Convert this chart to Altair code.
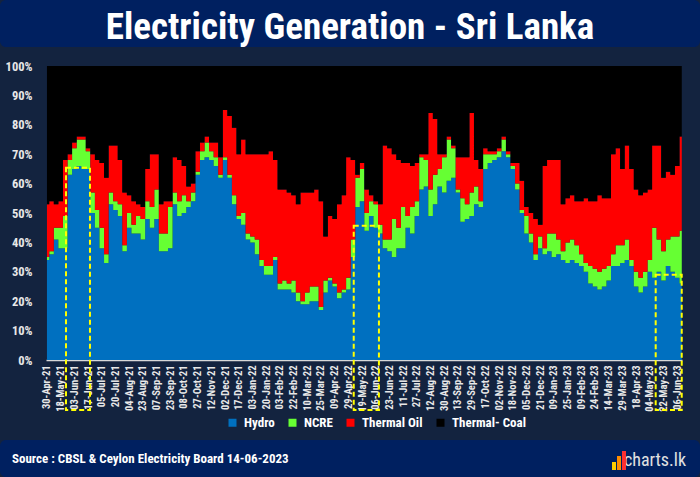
import json
import altair as alt
import pandas as pd

# ---------------- data ----------------
LABELS = ["30-Apr-21","18-May-21","03-Jun-21","17-Jun-21","05-Jul-21","20-Jul-21","04-Aug-21",
          "23-Aug-21","07-Sep-21","23-Sep-21","08-Oct-21","27-Oct-21","12-Nov-21","02-Dec-21",
          "17-Dec-21","03-Jan-22","20-Jan-22","03-Feb-22","22-Feb-22","10-Mar-22","25-Mar-22",
          "09-Apr-22","29-Apr-22","19-May-22","06-Jun-22","23-Jun-22","11-Jul-22","27-Jul-22",
          "12-Aug-22","30-Aug-22","13-Sep-22","29-Sep-22","17-Oct-22","02-Nov-22","18-Nov-22",
          "05-Dec-22","21-Dec-22","09-Jan-23","25-Jan-23","09-Feb-23","24-Feb-23","14-Mar-23",
          "29-Mar-23","18-Apr-23","04-May-23","22-May-23","06-Jun-23"]

SERIES = ["Hydro", "NCRE", "Thermal Oil", "Thermal- Coal"]
COLORS = ["#0070C0", "#66FF33", "#FF0000", "#000000"]

# shares in %, sampled every third of a label interval
HYDRO = [34,36,41,38,38,63,65,66,65,65, 50,45,38,33,53,51,49,37,45,43,
         43,41,48,45,48,37,37,38,53,49, 50,52,54,63,68,69,68,66,62,68,
         62,53,48,46,41,40,36,32,29,29, 34,24,24,24,23,20,19,19,20,20,
         17,23,27,25,21,23,24,35,52,54, 44,49,45,43,38,37,35,38,38,45,
         43,49,58,59,49,53,59,57,61,62, 57,47,48,49,53,52,65,67,68,69,
         71,69,65,58,50,43,40,34,38,36, 37,35,36,34,33,34,33,32,30,26,
         25,24,25,27,32,32,33,34,32,25, 23,25,30,28,30,27,32,30,28,26]
NCRE = [1,1,4,7,11,5,7,9,10,6, 7,6,7,3,4,3,4,2,5,3,
        6,7,6,7,10,6,6,14,4,5, 6,2,3,1,3,5,3,3,1,1,
        1,3,1,4,2,2,5,2,3,3, 1,2,3,2,4,3,1,4,5,5,
        1,4,1,1,2,1,4,6,10,11, 6,5,8,3,3,4,13,7,14,4,
        9,5,11,9,9,10,6,12,14,10, 1,8,5,8,6,2,5,3,2,2,
        4,1,1,2,1,6,3,2,4,2, 6,8,5,3,7,7,6,4,3,6,
        6,6,6,5,4,7,6,7,2,5, 5,5,4,17,11,10,9,12,14,18]
OIL = [18,17,8,9,19,2,2,1,1,1, 13,17,22,26,16,19,15,18,6,8,
       4,4,11,18,12,10,11,2,12,14, 10,5,3,7,3,2,3,5,6,16,
       20,23,21,25,27,28,29,36,38,39, 33,32,31,31,29,30,37,34,32,33,
       36,15,21,22,30,32,41,27,1,2, 8,2,1,7,32,31,22,23,15,18,
       14,13,1,2,26,19,5,1,1,1, 11,14,16,27,9,11,2,1,1,1,
       1,1,1,7,10,3,7,12,4,28, 25,25,27,16,15,15,15,18,22,22,
       23,26,24,23,34,33,26,32,31,28, 28,27,24,28,32,25,23,21,24,32]

# highlighted periods (in label-index units) and their heights (%)
BOX_START = [1.39, 22.39, 44.43]
BOX_END = [3.14, 24.23, 46.33]
BOX_TOP = [65.4, 45.7, 29.0]
BOX_BOTTOM = -17

TITLE = "Electricity Generation - Sri Lanka"
SOURCE = "Source : CBSL & Ceylon Electricity Board 14-06-2023"
BRAND = "charts.lk"

# ---------------- build table ----------------
rows = []
for i in range(len(HYDRO)):
    pos = i / 3
    parts = [HYDRO[i], NCRE[i], OIL[i]]
    parts.append(max(0, 100 - sum(parts)))
    lo = 0
    for name, v in zip(SERIES, parts):
        rows.append({"pos": pos, "series": name, "lo": lo, "hi": min(100, lo + v)})
        lo += v
df = pd.DataFrame(rows)
boxes = pd.DataFrame({"s": BOX_START, "e": BOX_END, "t": BOX_TOP, "b": [BOX_BOTTOM] * 3})
one = pd.DataFrame({"a": [0]})

FONT = "Roboto Condensed, Open Sans Condensed, DejaVu Sans Condensed, sans-serif"
PANEL = "#13233F"
NAVY = "#002060"

W, H = 636, 294
L, T = 46, 66

xscale = alt.Scale(domain=[-0.07, 46.35], nice=False, zero=False)
yscale = alt.Scale(domain=[0, 100], nice=False)

label_expr = json.dumps(LABELS) + "[round(datum.value)]"

xaxis = alt.Axis(values=list(range(len(LABELS))), labelExpr=label_expr,
                 labelAngle=270, labelFont=FONT, labelFontSize=10.5,
                 labelFontWeight="bold", labelColor="#E8E8E8", labelPadding=5,
                 ticks=False, grid=False, domainColor="#D9D9D9", domainWidth=1.5,
                 title=None, labelOverlap=False, labelBound=False, labelFlush=False)
yaxis = alt.Axis(values=list(range(0, 101, 10)), labelExpr="datum.value + '%'",
                 labelFont=FONT, labelFontSize=12.5, labelFontWeight="bold",
                 labelColor="#E8E8E8", labelPadding=14, ticks=False, grid=False,
                 domain=False, title=None, labelOverlap=False)

areas = alt.Chart(df).mark_area(interpolate="step").encode(
    x=alt.X("pos:Q", scale=xscale, axis=xaxis),
    y=alt.Y("hi:Q", scale=yscale, stack=False, axis=yaxis),
    y2="lo:Q",
    color=alt.Color("series:N", scale=alt.Scale(domain=SERIES, range=COLORS),
                    legend=alt.Legend(orient="none", legendX=180, legendY=350,
                                      direction="horizontal", title=None,
                                      symbolType="square", symbolSize=64,
                                      symbolStrokeWidth=0, labelColor="#FFFFFF",
                                      labelFont=FONT, labelFontSize=13,
                                      labelFontWeight="bold", columnPadding=11,
                                      labelOffset=5)),
)

box_layer = alt.Chart(boxes).mark_rect(
    fill=None, fillOpacity=0, stroke="#FFFF00", strokeWidth=2, strokeDash=[5, 3], clip=False
).encode(x=alt.X("s:Q", scale=xscale, axis=xaxis), x2="e:Q",
         y=alt.Y("t:Q", scale=yscale, axis=yaxis), y2="b:Q")

title_bar = alt.Chart(one).mark_rect(color=NAVY, cornerRadius=6, clip=False).encode(
    x=alt.value(-L), x2=alt.value(700 - L), y=alt.value(-T), y2=alt.value(47 - T))
footer_bar = alt.Chart(one).mark_rect(color=NAVY, cornerRadius=6, clip=False).encode(
    x=alt.value(-L), x2=alt.value(700 - L), y=alt.value(440 - T), y2=alt.value(477 - T))

title_txt = alt.Chart(one).mark_text(
    text=TITLE, font=FONT, fontSize=37, fontWeight="bold",
    color="#FFFFFF", align="center", baseline="alphabetic"
).encode(x=alt.value(350 - L), y=alt.value(39 - T))

source_txt = alt.Chart(one).mark_text(
    text=SOURCE, font=FONT, fontSize=13, fontWeight="bold", color="#FFFFFF",
    align="left", baseline="middle"
).encode(x=alt.value(12 - L), y=alt.value(459 - T))

brand_txt = alt.Chart(one).mark_text(
    text=BRAND, font=FONT, fontSize=18, color="#E0E0E0", align="right",
    baseline="middle"
).encode(x=alt.value(686 - L), y=alt.value(461 - T))

# small brand icon (three coloured bars)
icon1 = alt.Chart(one).mark_rect(clip=False, color="#FFCC00").encode(
    x=alt.value(612 - L), x2=alt.value(616 - L), y=alt.value(462 - T), y2=alt.value(470 - T))
icon2 = alt.Chart(one).mark_rect(clip=False, color="#FF8C00").encode(
    x=alt.value(617 - L), x2=alt.value(621 - L), y=alt.value(456 - T), y2=alt.value(470 - T))
icon3 = alt.Chart(one).mark_rect(clip=False, color="#FF3030").encode(
    x=alt.value(622 - L), x2=alt.value(626 - L), y=alt.value(451 - T), y2=alt.value(470 - T))

chart = alt.layer(
    title_bar, footer_bar, areas, box_layer, title_txt, source_txt, brand_txt,
    icon1, icon2, icon3
).properties(
    width=W, height=H,
    padding={"left": L, "top": T, "right": 700 - L - W, "bottom": 477 - T - H},
    autosize=alt.AutoSizeParams(type="none"),
    background=PANEL,
).configure_view(stroke=None).configure_axis(labelOverlap=False)

chart.save("out.html", embed_options={"renderer": "svg", "actions": False})
